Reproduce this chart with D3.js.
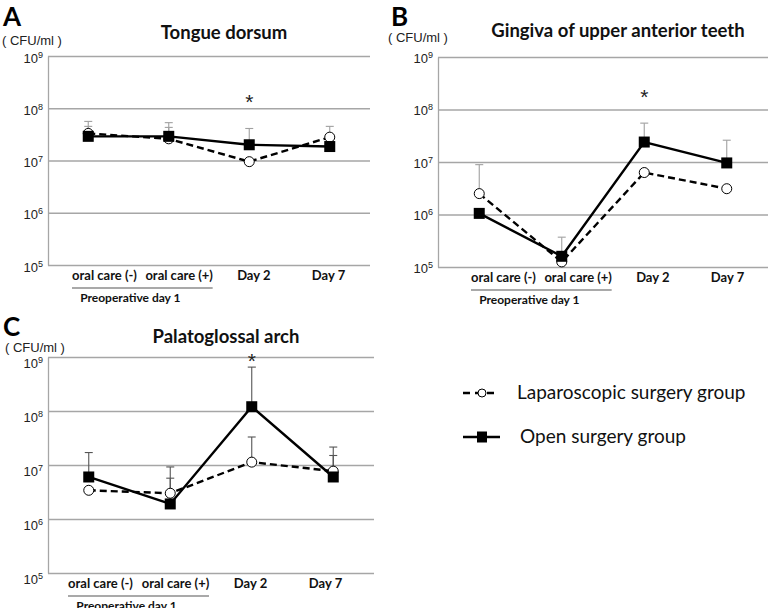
<!DOCTYPE html>
<html>
<head>
<meta charset="utf-8">
<script src="https://cdn.jsdelivr.net/npm/d3@7"></script>
<style>
  body { margin: 0; background: #fff; }
</style>
</head>
<body>
<svg id="chart" width="771" height="608"></svg>
<script>
// categories and tick labels
let categories = ["oral care (-)", "oral care (+)", "Day 2", "Day 7"];
let groupLabel = "Preoperative day 1";
let yTicks = [1e5, 1e6, 1e7, 1e8, 1e9];
let seriesNames = ["Laparoscopic surgery group", "Open surgery group"];

// A - tongue dorsum (CFU/ml), error = top of the upper bar
let tongueLap = [3.3e7, 2.6e7, 9.5e6, 2.8e7];
let tongueOpen = [2.9e7, 2.9e7, 2.0e7, 1.85e7];
let tongueLapErr = [5.6e7, 4.3e7, null, 4.5e7];
let tongueOpenErr = [4.5e7, 5.3e7, 4.1e7, null];

// B - gingiva of upper anterior teeth
let gingivaLap = [2.5e6, 1.25e5, 6.3e6, 3.1e6];
let gingivaOpen = [1.05e6, 1.6e5, 2.4e7, 9.6e6];
let gingivaLapErr = [8.9e6, null, null, null];
let gingivaOpenErr = [null, 3.7e5, 5.5e7, 2.6e7];

// C - palatoglossal arch
let palatoLap = [3.4e6, 3.0e6, 1.13e7, 7.7e6];
let palatoOpen = [6.0e6, 1.9e6, 1.2e8, 6.0e6];
let palatoLapErr = [null, 5.7e6, 3.3e7, 1.5e7];
let palatoOpenErr = [1.7e7, 9.2e6, 6.5e8, 2.15e7];

let svg = d3.select("#chart");
let labelFont = "Lato, 'Open Sans', sans-serif";
let axisFont = "'Liberation Sans', Arial, sans-serif";

let panels = [
  {
    letter: "A", title: "Tongue dorsum",
    lap: tongueLap, open: tongueOpen, lapErr: tongueLapErr, openErr: tongueOpenErr,
    left: 48, right: 370, top: 56, bottom: 265, labelRange: [104, 328],
    letterPos: [3, 26], unitPos: [2, 45], titleY: 39, tickDy: 6,
    star: 1.6e8, errColor: "#a0a0a0"
  },
  {
    letter: "B", title: "Gingiva of upper anterior teeth",
    lap: gingivaLap, open: gingivaOpen, lapErr: gingivaLapErr, openErr: gingivaOpenErr,
    left: 438, right: 768, top: 57, bottom: 267, labelRange: [503, 727],
    letterPos: [391, 26], unitPos: [388, 42], titleY: 37, tickDy: 5,
    star: 2.1e8, errColor: "#a0a0a0"
  },
  {
    letter: "C", title: "Palatoglossal arch",
    lap: palatoLap, open: palatoOpen, lapErr: palatoLapErr, openErr: palatoOpenErr,
    left: 48, right: 374, top: 357, bottom: 573, labelRange: [100, 325],
    letterPos: [3, 336], unitPos: [5, 352], titleY: 343, tickDy: 10,
    star: 1e9, errColor: "#555"
  }
];

let drawPanel = (p) => {
  let g = svg.append("g");
  let yScale = d3.scaleLog().domain([1e5, 1e9]).range([p.bottom, p.top]);
  let xScale = d3.scalePoint().domain(categories).range([p.left, p.right]).padding(0.5);
  let labelScale = d3.scalePoint().domain(categories).range(p.labelRange);

  // gridlines + y labels
  let yAxis = d3
    .axisLeft(yScale)
    .tickValues(yTicks)
    .tickSizeInner(-(p.right - p.left))
    .tickSizeOuter(0)
    .tickPadding(5)
    .tickFormat("");
  let gy = g
    .append("g")
    .attr("transform", `translate(${p.left},0)`)
    .call(yAxis)
    .attr("font-family", axisFont)
    .attr("font-size", 13);
  gy.select(".domain").attr("stroke", "#a6a6a6").attr("stroke-width", 1.3);
  gy.selectAll(".tick line").attr("stroke", "#a6a6a6").attr("stroke-width", 1.3);
  gy.selectAll(".tick text")
    .attr("fill", "#222")
    .attr("dy", p.tickDy)
    .each(function (d) {
      let t = d3.select(this);
      t.append("tspan").text("10");
      t.append("tspan")
        .attr("dy", -5)
        .attr("font-size", 9)
        .text(Math.round(Math.log10(d)));
    });

  // category labels
  let xAxis = d3.axisBottom(labelScale).tickSize(0).tickPadding(0);
  let gx = g
    .append("g")
    .attr("transform", `translate(0,${p.bottom})`)
    .call(xAxis)
    .attr("font-family", labelFont)
    .attr("font-size", 13)
    .attr("font-weight", "bold");
  gx.select(".domain").remove();
  gx.selectAll(".tick text").attr("y", 15).attr("dy", 0).attr("fill", "#111");

  let x0 = labelScale(categories[0]) - 32;
  let x1 = labelScale(categories[1]) + 34;
  g.append("line")
    .attr("x1", x0).attr("x2", x1)
    .attr("y1", p.bottom + 23).attr("y2", p.bottom + 23)
    .attr("stroke", "#555").attr("stroke-width", 1.2);
  g.append("text")
    .attr("x", (x0 + x1) / 2 - 12)
    .attr("y", p.bottom + 37)
    .attr("text-anchor", "middle")
    .attr("font-family", labelFont)
    .attr("font-size", 12)
    .attr("font-weight", "bold")
    .attr("fill", "#111")
    .text(groupLabel);

  // error bars (upper only)
  let errs = [
    { values: p.lap, err: p.lapErr },
    { values: p.open, err: p.openErr }
  ];
  errs.forEach((s) => {
    let pts = s.err
      .map((e, i) => ({ cat: categories[i], v: s.values[i], e: e }))
      .filter((d) => d.e !== null);
    let eg = g.append("g").attr("stroke", p.errColor).attr("stroke-width", 1.1);
    eg.selectAll(".stem")
      .data(pts)
      .enter()
      .append("line")
      .attr("x1", (d) => xScale(d.cat)).attr("x2", (d) => xScale(d.cat))
      .attr("y1", (d) => yScale(d.v)).attr("y2", (d) => yScale(d.e));
    eg.selectAll(".cap")
      .data(pts)
      .enter()
      .append("line")
      .attr("x1", (d) => xScale(d.cat) - 4).attr("x2", (d) => xScale(d.cat) + 4)
      .attr("y1", (d) => yScale(d.e)).attr("y2", (d) => yScale(d.e));
  });

  let line = d3
    .line()
    .x((d, i) => xScale(categories[i]))
    .y((d) => yScale(d));

  g.append("path")
    .attr("d", line(p.lap))
    .attr("fill", "none")
    .attr("stroke", "#000")
    .attr("stroke-width", 2.4)
    .attr("stroke-dasharray", "7,4");
  g.append("path")
    .attr("d", line(p.open))
    .attr("fill", "none")
    .attr("stroke", "#000")
    .attr("stroke-width", 2.4);

  g.selectAll(".lap")
    .data(p.lap)
    .enter()
    .append("circle")
    .attr("cx", (d, i) => xScale(categories[i]))
    .attr("cy", (d) => yScale(d))
    .attr("r", 5)
    .attr("fill", "#fff")
    .attr("stroke", "#000")
    .attr("stroke-width", 1);
  g.selectAll(".open")
    .data(p.open)
    .enter()
    .append("rect")
    .attr("x", (d, i) => xScale(categories[i]) - 5.5)
    .attr("y", (d) => yScale(d) - 5.5)
    .attr("width", 11)
    .attr("height", 11)
    .attr("fill", "#000");

  // significance star at Day 2
  g.append("text")
    .attr("x", xScale("Day 2"))
    .attr("y", yScale(p.star) + 11)
    .attr("text-anchor", "middle")
    .attr("font-family", axisFont)
    .attr("font-size", 21)
    .attr("fill", "#222")
    .text("*");

  // titles
  g.append("text")
    .attr("x", (p.left + p.right) / 2 + 15)
    .attr("y", p.titleY)
    .attr("text-anchor", "middle")
    .attr("font-family", labelFont)
    .attr("font-size", 18.5)
    .attr("font-weight", "bold")
    .attr("fill", "#111")
    .text(p.title);
  g.append("text")
    .attr("x", p.letterPos[0])
    .attr("y", p.letterPos[1])
    .attr("font-family", labelFont)
    .attr("font-size", 26)
    .attr("font-weight", "bold")
    .attr("fill", "#000")
    .text(p.letter);
  g.append("text")
    .attr("x", p.unitPos[0])
    .attr("y", p.unitPos[1])
    .attr("font-family", axisFont)
    .attr("font-size", 13)
    .attr("fill", "#222")
    .text("( CFU/ml )");
};

panels.forEach(drawPanel);

// legend
let legend = svg.append("g").attr("transform", "translate(463,0)");
let legendY = [393, 437];
legend.append("line")
  .attr("x1", 0).attr("x2", 36).attr("y1", legendY[0]).attr("y2", legendY[0])
  .attr("stroke", "#000").attr("stroke-width", 2.6).attr("stroke-dasharray", "7,5");
legend.append("circle")
  .attr("cx", 19).attr("cy", legendY[0]).attr("r", 4)
  .attr("fill", "#fff").attr("stroke", "#000").attr("stroke-width", 1);
legend.append("line")
  .attr("x1", 0).attr("x2", 37).attr("y1", legendY[1]).attr("y2", legendY[1])
  .attr("stroke", "#000").attr("stroke-width", 2.6);
legend.append("rect")
  .attr("x", 14).attr("y", legendY[1] - 5.5).attr("width", 10).attr("height", 11)
  .attr("fill", "#000");
legend.selectAll(".name")
  .data(seriesNames)
  .enter()
  .append("text")
  .attr("x", (d, i) => (i === 0 ? 54 : 57))
  .attr("y", (d, i) => legendY[i] + 6)
  .attr("font-family", labelFont)
  .attr("font-size", 19)
  .attr("fill", "#111")
  .text((d) => d);
</script>
</body>
</html>
